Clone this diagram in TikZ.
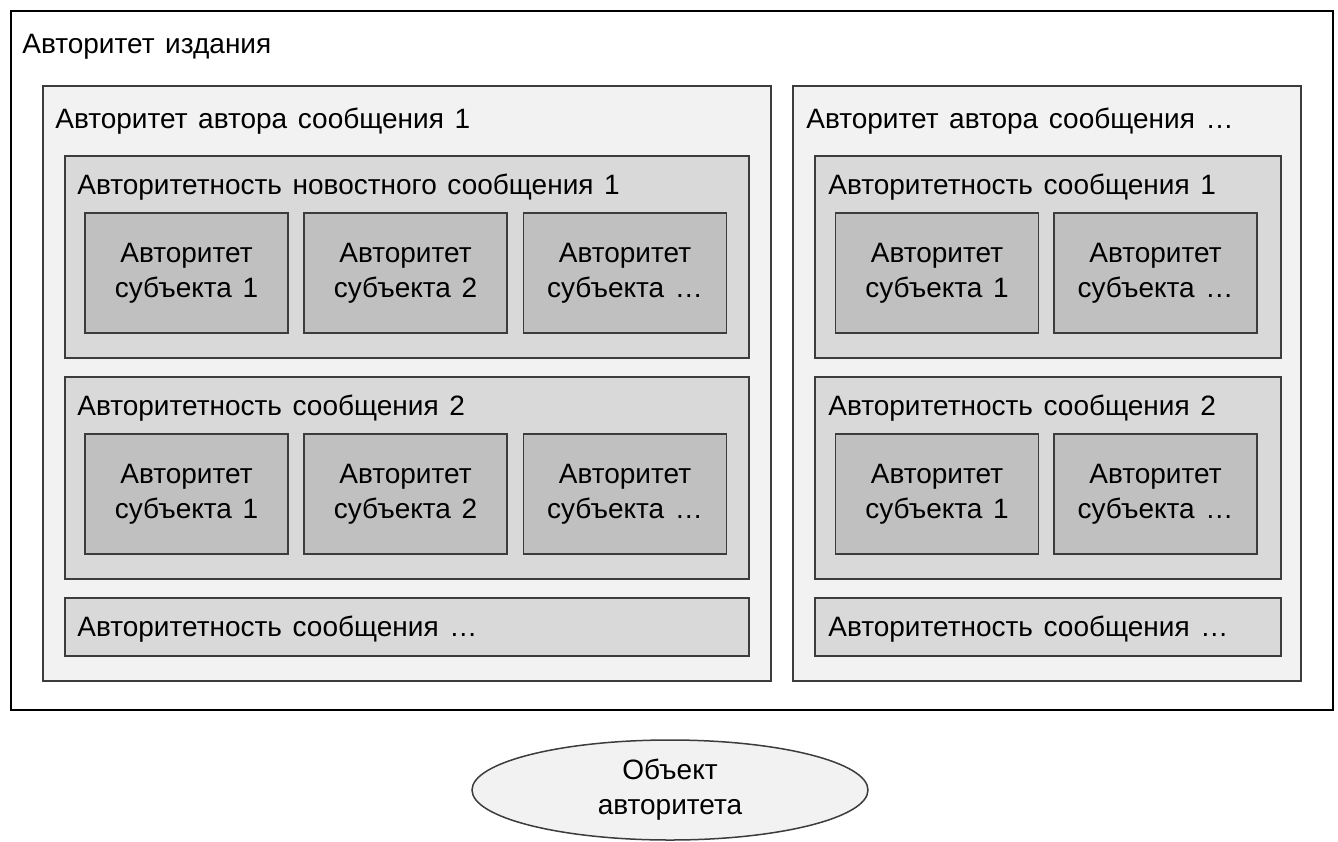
\documentclass[tikz,border=0pt]{standalone}
\usepackage{fontspec}
\setmainfont{Liberation Sans}
\usetikzlibrary{positioning,shapes.geometric}
\definecolor{authorgray}{RGB}{242,242,242}
\definecolor{msggray}{RGB}{217,217,217}
\definecolor{subjgray}{RGB}{192,192,192}
\definecolor{edgegray}{RGB}{60,60,60}
\newcommand\diagfont{\fontsize{14}{17.5}\selectfont\spaceskip=0.38em plus 0.1em\relax}

\begin{document}
\begin{tikzpicture}[x=0.5pt,y=-0.5pt,
	every node/.style={font=\diagfont, inner sep=0pt},
	box/.style={rectangle, draw=edgegray, line width=0.75pt, anchor=north west},
	edition/.style={box, draw=black, fill=white},
	author/.style={box, fill=authorgray},
	msg/.style={box, fill=msggray},
	subj/.style={rectangle, draw=edgegray, line width=0.75pt, fill=subjgray, align=center, minimum width=101.5pt, minimum height=60pt},
	caption/.style={anchor=base west}]
	\useasboundingbox (0,0) rectangle (1338,841);
	% frames
	\node [edition, minimum width=661pt, minimum height=349.5pt] (E) at (10,10) {};
	\node [author, minimum width=364pt, minimum height=297.5pt] (A1) at (42,85) {};
	\node [author, minimum width=254pt, minimum height=297.5pt] (A2) at (792,85) {};
	\node [msg, minimum width=342pt, minimum height=101pt] (M11) at (64,155) {};
	\node [msg, minimum width=342pt, minimum height=101pt] (M12) at (64,376) {};
	\node [msg, minimum width=342pt, minimum height=29pt] (M13) at (64,597) {};
	\node [msg, minimum width=233pt, minimum height=101pt] (M21) at (814,155) {};
	\node [msg, minimum width=233pt, minimum height=101pt] (M22) at (814,376) {};
	\node [msg, minimum width=233pt, minimum height=29pt] (M23) at (814,597) {};
	% captions
	\node [caption] (tE) at (22,53) {Авторитет издания};
	\node [caption] (tA1) at (55,128) {Авторитет автора сообщения 1};
	\node [caption] (tA2) at (806,128) {Авторитет автора сообщения …};
	\node [caption] (tM11) at (77,194) {Авторитетность новостного сообщения 1};
	\node [caption] (tM12) at (77,415) {Авторитетность сообщения 2};
	\node [caption] (tM13) at (77,636) {Авторитетность сообщения …};
	\node [caption] (tM21) at (828,194) {Авторитетность сообщения 1};
	\node [caption] (tM22) at (828,415) {Авторитетность сообщения 2};
	\node [caption] (tM23) at (828,636) {Авторитетность сообщения …};
	% subjects
	\node [subj] (S111) at (186.5,273) {Авторитет\\субъекта 1};
	\node [subj] (S112) at (405.5,273) {Авторитет\\субъекта 2};
	\node [subj] (S113) at (625,273) {Авторитет\\субъекта …};
	\node [subj] (S121) at (186.5,494) {Авторитет\\субъекта 1};
	\node [subj] (S122) at (405.5,494) {Авторитет\\субъекта 2};
	\node [subj] (S123) at (625,494) {Авторитет\\субъекта …};
	\node [subj] (S211) at (937,273) {Авторитет\\субъекта 1};
	\node [subj] (S212) at (1155.5,273) {Авторитет\\субъекта …};
	\node [subj] (S221) at (937,494) {Авторитет\\субъекта 1};
	\node [subj] (S222) at (1155.5,494) {Авторитет\\субъекта …};
	% object
	\node [ellipse, draw=edgegray, line width=0.75pt, fill=authorgray, align=center, minimum width=198pt, minimum height=50pt] (O) at (670,790) {Объект\\авторитета};
\end{tikzpicture}
\end{document}
